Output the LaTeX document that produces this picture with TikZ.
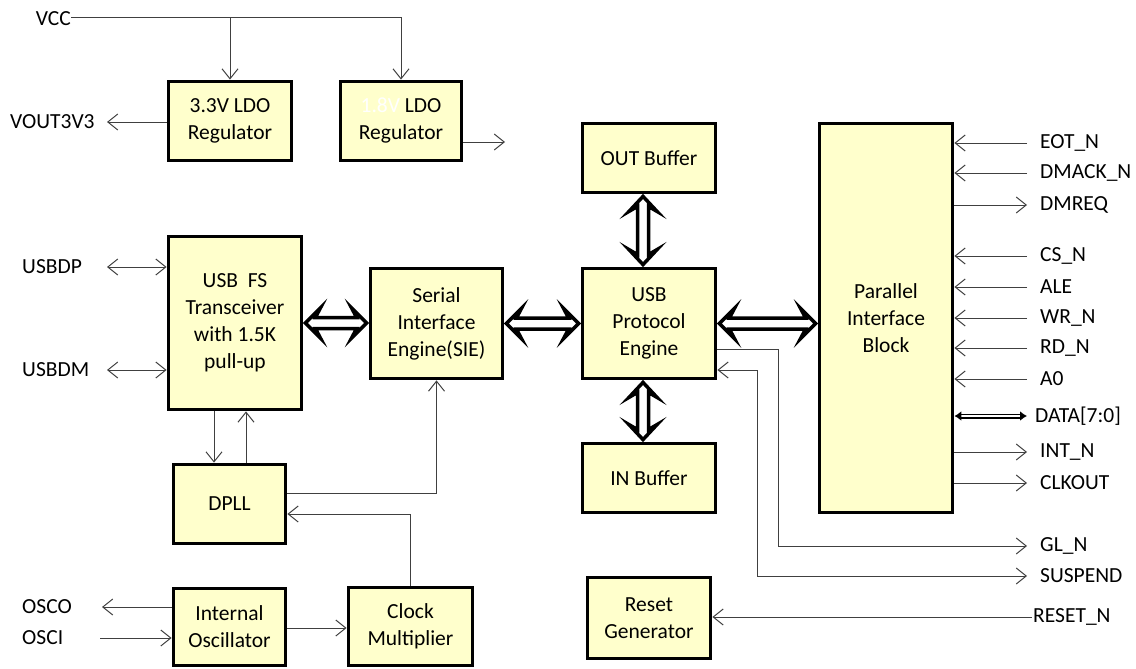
\documentclass[tikz,border=0pt]{standalone}
\usepackage{fontspec}
\setmainfont{Carlito}
\usetikzlibrary{calc,arrows.meta}
\definecolor{boxfill}{HTML}{FFFFCC}
\definecolor{sigcol}{HTML}{404040}
\newcommand\hollowH[2]{\draw[hollow] let \p1=#1,\p2=#2 in
  (\x1,\y1) -- (\x1+15pt,\y1+15pt) -- (\x1+10pt,\y1+5.5pt) -- (\x2-10pt,\y1+5.5pt)
  -- (\x2-15pt,\y1+15pt) -- (\x2,\y1) -- (\x2-15pt,\y1-15pt) -- (\x2-10pt,\y1-5.5pt)
  -- (\x1+10pt,\y1-5.5pt) -- (\x1+15pt,\y1-15pt) -- cycle;}
\newcommand\hollowV[2]{\draw[hollow] let \p1=#1,\p2=#2 in
  (\x1,\y1) -- (\x1+14pt,\y1-15pt) -- (\x1+5.5pt,\y1-10pt) -- (\x1+5.5pt,\y2+10pt)
  -- (\x1+14pt,\y2+15pt) -- (\x1,\y2) -- (\x1-14pt,\y2+15pt) -- (\x1-5.5pt,\y2+10pt)
  -- (\x1-5.5pt,\y1-10pt) -- (\x1-14pt,\y1-15pt) -- cycle;}
\begin{document}
\begin{tikzpicture}[x=1pt,y=-1pt,
  font=\fontsize{21.5}{27}\selectfont,
  >={Straight Barb[length=10pt,width=16pt,line width=1pt]},
  blk/.style={draw=black,line width=3.8pt,fill=boxfill,align=center,inner sep=0pt},
  lbl/.style={inner sep=0pt,text=black},
  sig/.style={draw=sigcol,line width=1pt},
  hollow/.style={draw=black,fill=white,line width=3.5pt,line join=miter},
  databus/.style={draw=black,double=white,line width=1.8pt,double distance=1.4pt,
    {Latex[length=7pt,width=10pt]}-{Latex[length=7pt,width=10pt]}}]
\useasboundingbox (0,0) rectangle (1136,669);
% blocks
\node[blk,minimum width=123,minimum height=79] (ldo33) at (230,121) {3.3V LDO\\Regulator};
\node[blk,minimum width=121,minimum height=79] (ldo18) at (401,121) {{\color{white}1.8V} LDO\\Regulator};
\node[blk,minimum width=133,minimum height=173] (trans) at (235,323) {USB~ FS\\Transceiver\\with 1.5K\\pull-up};
\node[blk,minimum width=132,minimum height=110] (sie) at (436.5,323.5) {Serial\\Interface\\Engine(SIE)};
\node[blk,minimum width=133,minimum height=110] (eng) at (649,323.5) {USB\\Protocol\\Engine};
\node[blk,minimum width=133,minimum height=69] (outb) at (649,158) {OUT Buffer};
\node[blk,minimum width=133,minimum height=69] (inb) at (649,478) {IN Buffer};
\node[blk,minimum width=133,minimum height=389] (pib) at (886,318) {Parallel\\Interface\\Block};
\node[blk,minimum width=112,minimum height=79] (dpll) at (229.5,504) {DPLL};
\node[blk,minimum width=112,minimum height=77] (osc) at (229.5,627) {Internal\\Oscillator};
\node[blk,minimum width=124,minimum height=78] (clk) at (410.5,626.5) {Clock\\Multiplier};
\node[blk,minimum width=123,minimum height=81] (rst) at (649,618) {Reset\\Generator};
% left labels
\node[lbl,anchor=east] (vcc) at (71,19) {VCC};
\node[lbl,anchor=west] (vout) at (10,122) {VOUT3V3};
\node[lbl,anchor=west] (usbdp) at (22,267) {USBDP};
\node[lbl,anchor=west] (usbdm) at (22,370) {USBDM};
\node[lbl,anchor=west] (osco) at (22,607) {OSCO};
\node[lbl,anchor=west] (osci) at (22,638) {OSCI};
\coordinate (voutE) at (107,122);
\coordinate (v18E) at (505,142);
\coordinate (dpE) at (107,267);
\coordinate (dmE) at (107,370);
\coordinate (oscoE) at (102,607);
\coordinate (osciE) at (100,638);
% right labels
\foreach \nm/\txt/\yy in {eot/EOT\_N/143,dmack/DMACK\_N/173,dmreq/DMREQ/205,cs/CS\_N/256,
  ale/ALE/287,wr/WR\_N/318,rd/RD\_N/348,azero/A0/379,int/INT\_N/452,clkout/CLKOUT/483,
  gl/GL\_N/546,susp/SUSPEND/576}{
  \node[lbl,anchor=west] (\nm L) at (1040,\yy) {\txt};
  \coordinate (\nm E) at (1027,\yy);
}
\node[lbl,anchor=west] (dataL) at (1035,416) {DATA[7:0]};
\coordinate (dataE) at (1027,416);
\node[lbl,anchor=west] (rstL) at (1033,617) {RESET\_N};
\coordinate (rstE) at (1032,617);
% power
\draw[sig,->] (vcc.east |- 0,18) -| (ldo18.north);
\draw[sig,->] (ldo33.north |- 0,18) -- (ldo33.north);
\draw[sig,->] (ldo33.west |- voutE) -- (voutE);
\draw[sig,->] (ldo18.east |- v18E) -- (v18E);
% usb lines
\draw[sig,<->] (dpE) -- (trans.west |- dpE);
\draw[sig,<->] (dmE) -- (trans.west |- dmE);
\draw[sig,->] ([xshift=-21pt]trans.south) -- ([xshift=-21pt]trans.south |- dpll.north);
\draw[sig,->] ([xshift=11pt]trans.south |- dpll.north) -- ([xshift=11pt]trans.south);
\draw[sig,->] ([yshift=11pt]dpll.east) -| (sie.south);
\draw[sig,->] (clk.north) |- ([yshift=-10pt]dpll.east);
\draw[sig,->] ([yshift=-1pt]osc.east) -- ([yshift=-1pt]osc.east -| clk.west);
\draw[sig,->] (osc.west |- oscoE) -- (oscoE);
\draw[sig,->] (osciE) -- (osc.west |- osciE);
% parallel interface signals
\foreach \nm in {eot,dmack,cs,ale,wr,rd,azero}{
  \draw[sig,->] (\nm E) -- (pib.east |- \nm E);
}
\foreach \nm in {dmreq,int,clkout}{
  \draw[sig,->] (pib.east |- \nm E) -- (\nm E);
}
\draw[databus] (pib.east |- dataE) -- (dataE);
\draw[sig,->] ([yshift=-25.5pt]eng.east) -- ++(61,0) |- (glE);
\draw[sig,<->] ([yshift=-46.5pt]eng.east) -- ++(40,0) |- (suspE);
\draw[sig,->] (rstE) -- (rst.east |- rstE);
% hollow buses
\hollowH{([xshift=2pt]trans.east)}{([xshift=-2pt]sie.west)}
\hollowH{([xshift=2pt]sie.east)}{([xshift=-2pt]eng.west)}
\hollowH{([xshift=2pt]eng.east)}{([xshift=-2pt]pib.west)}
\hollowV{([xshift=-6pt,yshift=-2pt]outb.south)}{([xshift=-6pt,yshift=2pt]eng.north)}
\hollowV{([xshift=-6pt,yshift=-2pt]eng.south)}{([xshift=-6pt,yshift=2pt]inb.north)}
\end{tikzpicture}
\end{document}
